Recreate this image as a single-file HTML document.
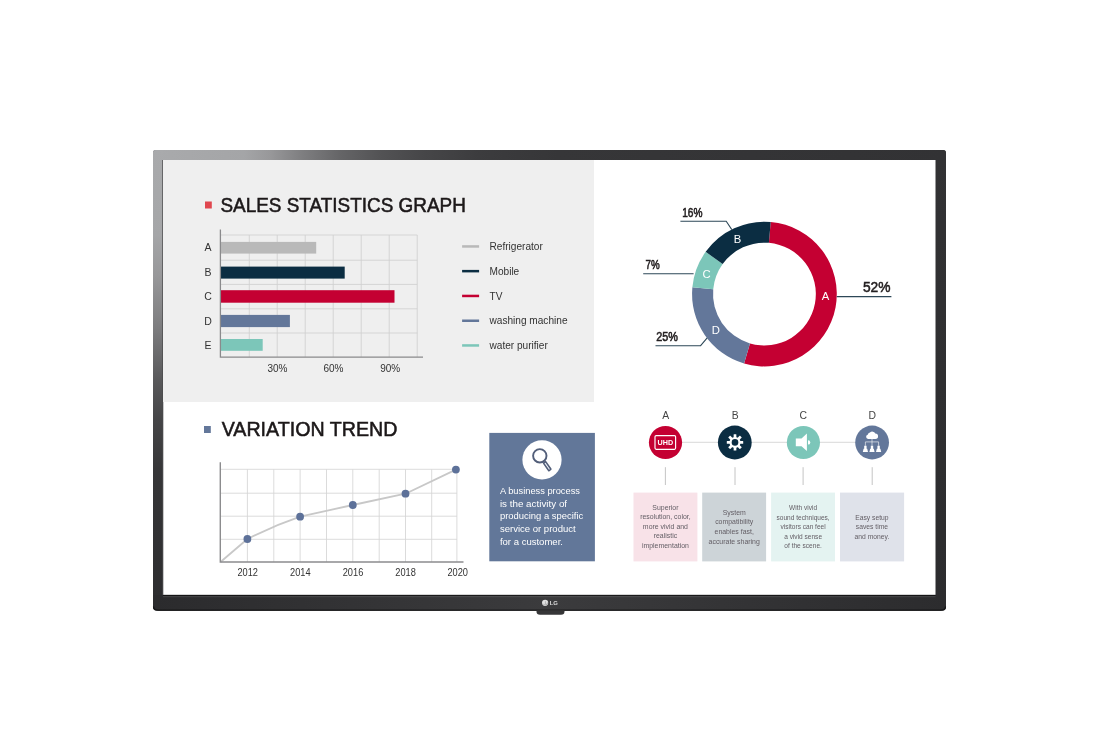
<!DOCTYPE html>
<html lang="en">
<head>
<meta charset="utf-8">
<title>LG Signage Display</title>
<style>
html,body{margin:0;padding:0;background:#fff;}
body{width:1100px;height:730px;overflow:hidden;position:relative;font-family:"Liberation Sans",sans-serif;}
svg{position:absolute;left:0;top:0;display:block;}
text{font-family:"Liberation Sans",sans-serif;}
</style>
</head>
<body>
<svg width="1100" height="730" viewBox="0 0 1100 730">
<defs>
  <linearGradient id="gTop" x1="0" y1="0" x2="1" y2="0">
    <stop offset="0" stop-color="#a9aaac"/>
    <stop offset="0.115" stop-color="#a4a5a7"/>
    <stop offset="0.1475" stop-color="#98989a"/>
    <stop offset="0.185" stop-color="#808082"/>
    <stop offset="0.236" stop-color="#656567"/>
    <stop offset="0.286" stop-color="#535355"/>
    <stop offset="0.337" stop-color="#474749"/>
    <stop offset="0.41" stop-color="#3c3c3e"/>
    <stop offset="0.51" stop-color="#363638"/>
    <stop offset="1" stop-color="#323234"/>
  </linearGradient>
  <linearGradient id="gLeft" x1="0" y1="0" x2="0" y2="1">
    <stop offset="0" stop-color="#a9aaac"/>
    <stop offset="0.19" stop-color="#a5a6a8"/>
    <stop offset="0.28" stop-color="#98989a"/>
    <stop offset="0.40" stop-color="#7c7c7e"/>
    <stop offset="0.515" stop-color="#59595b"/>
    <stop offset="0.605" stop-color="#454547"/>
    <stop offset="0.72" stop-color="#363638"/>
    <stop offset="1" stop-color="#2d2d2f"/>
  </linearGradient>
  <linearGradient id="gBot" x1="0" y1="0" x2="1" y2="0">
    <stop offset="0" stop-color="#2b2b2d"/>
    <stop offset="0.25" stop-color="#333335"/>
    <stop offset="0.5" stop-color="#3b3b3d"/>
    <stop offset="0.75" stop-color="#333335"/>
    <stop offset="1" stop-color="#2c2c2e"/>
  </linearGradient>
  <linearGradient id="gBotV" x1="0" y1="0" x2="0" y2="1">
    <stop offset="0" stop-color="#000" stop-opacity="0.6"/>
    <stop offset="0.08" stop-color="#000" stop-opacity="0.5"/>
    <stop offset="0.1" stop-color="#fff" stop-opacity="0.1"/>
    <stop offset="0.15" stop-color="#fff" stop-opacity="0.08"/>
    <stop offset="0.2" stop-color="#000" stop-opacity="0"/>
    <stop offset="1" stop-color="#000" stop-opacity="0"/>
  </linearGradient>
  <linearGradient id="gRight" x1="0" y1="0" x2="0" y2="1">
    <stop offset="0" stop-color="#323234"/>
    <stop offset="1" stop-color="#2c2c2e"/>
  </linearGradient>
</defs>

<!-- TV frame -->
<g id="frame">
  <path d="M156 150H943Q946 150 946 153V607.3Q946 610.8 941 610.8H158Q153 610.8 153 607.3V153Q153 150 156 150Z" fill="url(#gRight)"/>
  <path d="M156 150H943Q946 150 946 153V160H153V153Q153 150 156 150Z" fill="url(#gTop)"/>
  <path d="M153 153Q153 150 156 150H163V596H153Z" fill="url(#gLeft)"/>
  <path d="M153 595H946V607.3Q946 610.8 941 610.8H158Q153 610.8 153 607.3Z" fill="url(#gBot)"/>
  <rect x="163" y="594.7" width="772.5" height="16.1" fill="url(#gBotV)"/>
  <path d="M153.5 606.6Q153.6 610.15 158.4 610.15H940.6Q945.4 610.15 945.5 606.6" fill="none" stroke="#000000" stroke-opacity="0.5" stroke-width="1.3"/>
  <path d="M536.5 610.5H564.5V611.7Q564.5 614.7 561 614.7H540Q536.5 614.7 536.5 611.7Z" fill="#363638"/>
  <rect x="163" y="160" width="772.5" height="434.8" fill="#ffffff"/>
  <rect x="162.3" y="160" width="1" height="435" fill="#4a4a4c"/>
</g>

<!-- LG logo -->
<g id="lg">
  <circle cx="545.1" cy="602.8" r="3.1" fill="#e2e2e2"/>
  <path d="M545.4 601.2V604.2H546.6M546.9 602.8H547.6A2.4 2.4 0 0 1 543 603.6" stroke="#8e8e90" stroke-width="0.55" fill="none"/>
  <text x="549.7" y="605" font-size="6" font-weight="700" fill="#dcdcdc" textLength="8.3" lengthAdjust="spacingAndGlyphs">LG</text>
</g>

<!-- top-left panel -->
<rect x="163" y="160" width="431" height="242" fill="#efefef"/>

<!-- SALES STATISTICS GRAPH -->
<g id="sales">
  <rect x="205" y="201.5" width="6.8" height="7" fill="#e0474f"/>
  <text x="220.4" y="211.7" font-size="20.2" fill="#1c1819" stroke="#1c1819" stroke-width="0.55" textLength="245.5" lengthAdjust="spacingAndGlyphs">SALES STATISTICS GRAPH</text>
  <!-- grid -->
  <g stroke="#d0d0d0" stroke-width="0.85" fill="none">
    <path d="M249.3 235V357M277.2 235V357M305.2 235V357M333.2 235V357M361.2 235V357M389.2 235V357M417.2 235V357"/>
    <path d="M221 235H417.2M221 260.2H417.2M221 284.4H417.2M221 308.8H417.2M221 333H417.2"/>
  </g>
  <!-- bars -->
  <rect x="221" y="241.9" width="95.2" height="11.7" fill="#b9b9b9"/>
  <rect x="221" y="266.6" width="123.7" height="12" fill="#0b2d42"/>
  <rect x="221" y="290.2" width="173.5" height="12.5" fill="#c40032"/>
  <rect x="221" y="314.9" width="68.9" height="12.2" fill="#63779a"/>
  <rect x="221" y="339" width="41.7" height="11.8" fill="#7cc6b9"/>
  <!-- axes -->
  <path d="M220.4 229.4V357.2H423" stroke="#8a8a8c" stroke-width="1.3" fill="none"/>
  <!-- row labels -->
  <g font-size="10.5" fill="#333333" text-anchor="middle">
    <text x="208" y="251.4">A</text>
    <text x="208" y="276.1">B</text>
    <text x="208" y="300.4">C</text>
    <text x="208" y="324.9">D</text>
    <text x="208" y="348.9">E</text>
  </g>
  <g font-size="10" fill="#333333" text-anchor="middle">
    <text x="277.4" y="372">30%</text>
    <text x="333.4" y="372">60%</text>
    <text x="390.2" y="372">90%</text>
  </g>
  <!-- legend -->
  <g>
    <rect x="462.1" y="245.2" width="17" height="2.5" fill="#b9b9b9"/>
    <rect x="462.1" y="269.9" width="17" height="2.5" fill="#0b2d42"/>
    <rect x="462.1" y="294.7" width="17" height="2.5" fill="#c40032"/>
    <rect x="462.1" y="319.5" width="17" height="2.5" fill="#63779a"/>
    <rect x="462.1" y="344.2" width="17" height="2.5" fill="#7cc6b9"/>
  </g>
  <g font-size="10.1" fill="#333333">
    <text x="489.5" y="249.7">Refrigerator</text>
    <text x="489.5" y="274.8">Mobile</text>
    <text x="489.5" y="299.5">TV</text>
    <text x="489.5" y="324">washing machine</text>
    <text x="489.5" y="348.7">water purifier</text>
  </g>
</g>

<!-- DONUT -->
<g id="donut">
  <path d="M770.71 221.98A72.35 72.35 0 1 1 744.09 363.49L749.97 343.38A51.4 51.4 0 1 0 768.88 242.85Z" fill="#c40032"/>
  <path d="M744.09 363.49A72.35 72.35 0 0 1 692.36 287.37L713.22 289.30A51.4 51.4 0 0 0 749.97 343.38Z" fill="#63779a"/>
  <path d="M692.36 287.37A72.35 72.35 0 0 1 705.65 251.83L722.66 264.06A51.4 51.4 0 0 0 713.22 289.30Z" fill="#7cc6b9"/>
  <path d="M705.65 251.83A72.35 72.35 0 0 1 770.71 221.98L768.88 242.85A51.4 51.4 0 0 0 722.66 264.06Z" fill="#0b2d42"/>
  <g font-size="11.3" fill="#ffffff" text-anchor="middle">
    <text x="825.6" y="300.4">A</text>
    <text x="737.5" y="243">B</text>
    <text x="706.5" y="278">C</text>
    <text x="715.8" y="334.4">D</text>
  </g>
  <g stroke="#2d4757" stroke-width="1.05" fill="none">
    <path d="M836.7 296.6H891.4"/>
    <path d="M680.4 221.2H726.2L731.8 229.6"/>
    <path d="M643.2 273.8H693.6"/>
    <path d="M655.5 345.7H700.6L707.2 337.8"/>
  </g>
  <g fill="#231f20" stroke="#231f20" stroke-width="0.55">
    <text x="862.9" y="292.1" font-size="15.4" textLength="27.6" lengthAdjust="spacingAndGlyphs">52%</text>
    <text x="682.2" y="216.7" font-size="12" textLength="20.3" lengthAdjust="spacingAndGlyphs">16%</text>
    <text x="645.6" y="269.2" font-size="12" textLength="14.2" lengthAdjust="spacingAndGlyphs">7%</text>
    <text x="656.3" y="340.7" font-size="12" textLength="21.7" lengthAdjust="spacingAndGlyphs">25%</text>
  </g>
</g>
<!-- VARIATION TREND -->
<g id="trend">
  <rect x="204" y="426" width="6.8" height="7" fill="#63779a"/>
  <text x="221.7" y="436.2" font-size="20.4" fill="#1c1819" stroke="#1c1819" stroke-width="0.55" textLength="175.7" lengthAdjust="spacingAndGlyphs">VARIATION TREND</text>
  <g stroke="#d4d4d4" stroke-width="0.85" fill="none">
    <path d="M247.4 469.3V562M273.8 469.3V562M300.1 469.3V562M326.5 469.3V562M352.8 469.3V562M379.2 469.3V562M405.5 469.3V562M431.7 469.3V562M456.9 469.3V562"/>
    <path d="M221 469.3H456.9M221 493.2H456.9M221 516.2H456.9M221 539.3H456.9"/>
  </g>
  <path d="M220.5 562L247.4 539Q273 526 300.1 516.7L352.8 505L405.5 493.7L455.9 469.6" stroke="#c8c8c8" stroke-width="1.8" fill="none" stroke-linejoin="round"/>
  <path d="M220.3 462.2V562H463.5" stroke="#8c8c8e" stroke-width="1.4" fill="none"/>
  <g fill="#5d7199">
    <circle cx="247.4" cy="539" r="3.9"/>
    <circle cx="300.1" cy="516.7" r="3.9"/>
    <circle cx="352.8" cy="505" r="3.9"/>
    <circle cx="405.5" cy="493.7" r="3.9"/>
    <circle cx="455.9" cy="469.6" r="3.9"/>
  </g>
  <g font-size="10.2" fill="#333333" text-anchor="middle">
    <text x="247.7" y="575.6" textLength="20.6" lengthAdjust="spacingAndGlyphs">2012</text>
    <text x="300.3" y="575.6" textLength="20.6" lengthAdjust="spacingAndGlyphs">2014</text>
    <text x="353" y="575.6" textLength="20.6" lengthAdjust="spacingAndGlyphs">2016</text>
    <text x="405.6" y="575.6" textLength="20.6" lengthAdjust="spacingAndGlyphs">2018</text>
    <text x="457.7" y="575.6" textLength="20.6" lengthAdjust="spacingAndGlyphs">2020</text>
  </g>
</g>
<!-- BLUE INFO BOX -->
<g id="info">
  <rect x="489.3" y="432.9" width="105.6" height="128.4" fill="#627799"/>
  <circle cx="542" cy="459.8" r="19.6" fill="#ffffff"/>
  <circle cx="539.8" cy="455.8" r="6.7" fill="none" stroke="#525e79" stroke-width="1.9"/>
  <rect x="-1.3" y="0.3" width="2.6" height="9.3" rx="0.3" transform="translate(544.4 462.1) rotate(-35)" fill="#eef3fb" stroke="#525e79" stroke-width="1.6"/>
  <g font-size="9.5" fill="#ffffff">
    <text x="499.9" y="493.6" textLength="80.1" lengthAdjust="spacingAndGlyphs">A business process</text>
    <text x="499.9" y="506.5" textLength="67.2" lengthAdjust="spacingAndGlyphs">is the activity of</text>
    <text x="499.9" y="519.4" textLength="83.3" lengthAdjust="spacingAndGlyphs">producing a specific</text>
    <text x="499.9" y="532.3" textLength="75.8" lengthAdjust="spacingAndGlyphs">service or product</text>
    <text x="499.9" y="544.9" textLength="63.1" lengthAdjust="spacingAndGlyphs">for a customer.</text>
  </g>
</g>
<!-- FEATURE ROW -->
<g id="features">
  <path d="M665.5 442.3H872" stroke="#d4d4d4" stroke-width="0.9" fill="none"/>
  <g stroke="#bdbdbd" stroke-width="0.9" fill="none">
    <path d="M665.4 467.2V485M735 467.2V485M803.1 467.2V485M872.2 467.2V485"/>
  </g>
  <g font-size="10.4" fill="#444444" text-anchor="middle">
    <text x="665.7" y="418.7">A</text>
    <text x="735.3" y="418.7">B</text>
    <text x="803.3" y="418.7">C</text>
    <text x="872.3" y="418.7">D</text>
  </g>
  <circle cx="665.5" cy="442.5" r="16.6" fill="#c40032"/>
  <circle cx="734.8" cy="442.5" r="16.9" fill="#0b2d42"/>
  <circle cx="803.4" cy="442.5" r="16.6" fill="#7cc6b9"/>
  <circle cx="872.1" cy="442.5" r="16.9" fill="#63779a"/>
  <!-- UHD icon -->
  <rect x="655" y="435.6" width="20.6" height="13.7" rx="1.2" ry="1.2" fill="none" stroke="#ffffff" stroke-width="1.15"/>
  <text x="665.4" y="445.3" font-size="8" font-weight="700" fill="#ffffff" text-anchor="middle" textLength="15.6" lengthAdjust="spacingAndGlyphs">UHD</text>
  <!-- gear icon -->
  <g transform="translate(735 442.4)" fill="#ffffff">
    <rect x="-8.2" y="-1.35" width="16.4" height="2.7" rx="0.3"/>
    <rect x="-8.2" y="-1.35" width="16.4" height="2.7" rx="0.3" transform="rotate(45)"/>
    <rect x="-8.2" y="-1.35" width="16.4" height="2.7" rx="0.3" transform="rotate(90)"/>
    <rect x="-8.2" y="-1.35" width="16.4" height="2.7" rx="0.3" transform="rotate(135)"/>
    <circle r="5.5"/>
    <circle r="3.3" fill="#0b2d42"/>
  </g>
  <!-- speaker icon -->
  <path d="M795.8 438.5H801.5L806.9 433.6V451.1L801.5 446.2H795.8Z" fill="#ffffff"/>
  <path d="M808 440.2A2.3 2.2 0 0 1 808 444.6Z" fill="#ffffff"/>
  <!-- network icon -->
  <g fill="#ffffff">
    <g transform="translate(865.8 431.3) scale(0.947 0.927) translate(-865.9 -431.2)">
      <path d="M868.3 439.4A2.3 2.3 0 0 1 867.9 434.9A3 3 0 0 1 870.3 432.6A3.4 3.4 0 0 1 875.9 433.6A2.9 2.9 0 0 1 876 439.4Z"/>
    </g>
    <path d="M862.8 451.9L863.6 448.7H864.2V445.8H866.6V448.7H867.2L868 451.9Z"/>
    <path d="M869.4 451.9L870.2 448.7H870.8V445.8H873.2V448.7H873.8L874.6 451.9Z"/>
    <path d="M876 451.9L876.8 448.7H877.4V445.8H879.8V448.7H880.4L881.2 451.9Z"/>
  </g>
  <path d="M872 438.9V445.8M865.4 445.8V441.9H878.6V445.8" stroke="#ffffff" stroke-width="0.7" fill="none" opacity="0.85"/>
  <!-- boxes -->
  <rect x="633.5" y="492.6" width="63.9" height="68.8" fill="#f8e2e8"/>
  <rect x="702.2" y="492.6" width="63.9" height="68.8" fill="#cdd4d8"/>
  <rect x="771.1" y="492.6" width="63.9" height="68.8" fill="#e4f3f1"/>
  <rect x="840" y="492.6" width="64.1" height="68.8" fill="#dfe2ea"/>
  <g font-size="7.5" fill="#625d64" text-anchor="middle">
    <g transform="translate(665.4 0)">
      <text transform="scale(0.925 1)" y="509.8">Superior</text>
      <text transform="scale(0.925 1)" y="519.2">resolution, color,</text>
      <text transform="scale(0.925 1)" y="528.7">more vivid and</text>
      <text transform="scale(0.925 1)" y="538.2">realistic</text>
      <text transform="scale(0.925 1)" y="547.7">implementation</text>
    </g>
    <g transform="translate(734.2 0)">
      <text transform="scale(0.925 1)" y="515">System</text>
      <text transform="scale(0.925 1)" y="524.5">compatibility</text>
      <text transform="scale(0.925 1)" y="534.1">enables fast,</text>
      <text transform="scale(0.925 1)" y="543.6">accurate sharing</text>
    </g>
    <g transform="translate(803.1 0)">
      <text transform="scale(0.875 1)" y="510.2">With vivid</text>
      <text transform="scale(0.875 1)" y="519.8">sound techniques,</text>
      <text transform="scale(0.875 1)" y="529.3">visitors can feel</text>
      <text transform="scale(0.875 1)" y="538.9">a vivid sense</text>
      <text transform="scale(0.875 1)" y="548.4">of the scene.</text>
    </g>
    <g transform="translate(871.9 0)">
      <text transform="scale(0.9 1)" y="519.8">Easy setup</text>
      <text transform="scale(0.9 1)" y="529.3">saves time</text>
      <text transform="scale(0.9 1)" y="538.9">and money.</text>
    </g>
  </g>
</g>

</svg>
</body>
</html>
